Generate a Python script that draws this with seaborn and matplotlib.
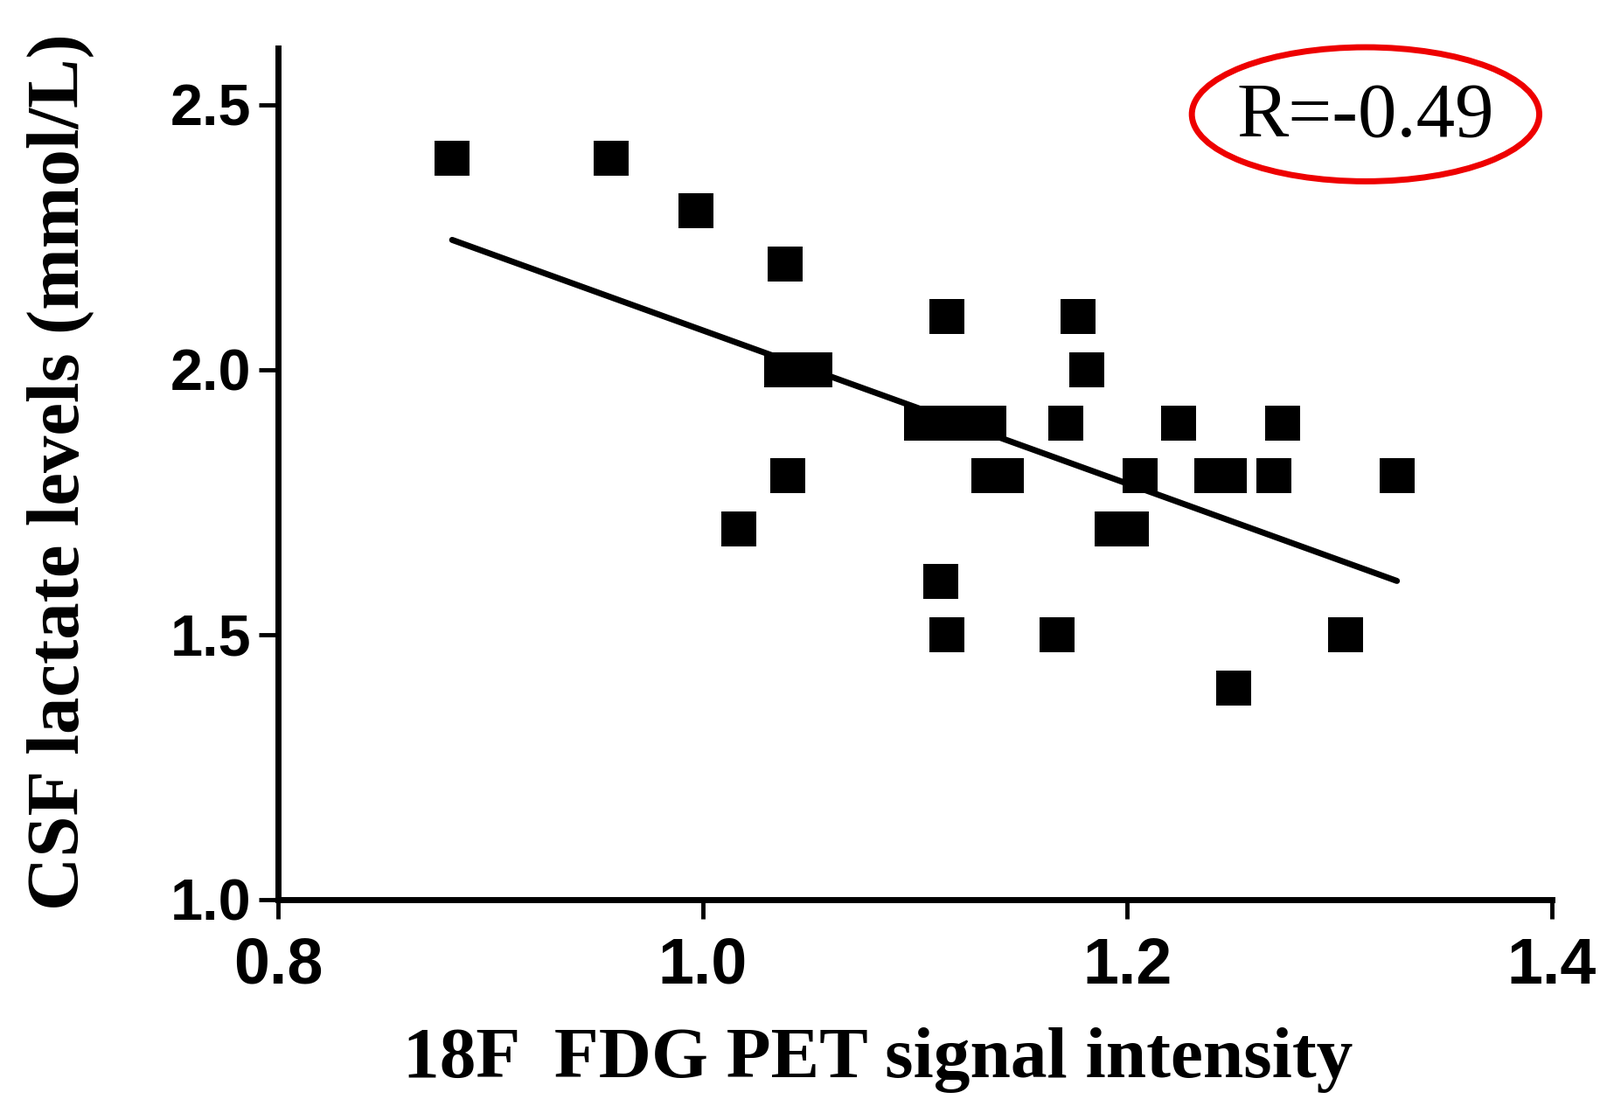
import numpy as np
import pandas as pd
import matplotlib
matplotlib.use("Agg")
import matplotlib.pyplot as plt
from matplotlib.patches import Ellipse
import seaborn as sns

# values
pet_signal = [0.882, 0.957, 0.997, 1.039, 1.115, 1.177,
              1.037, 1.053, 1.181,
              1.103, 1.119, 1.135, 1.171, 1.224, 1.273,
              1.040, 1.135, 1.143, 1.206, 1.240, 1.248, 1.269, 1.327,
              1.017, 1.193, 1.202,
              1.112,
              1.115, 1.167, 1.303,
              1.250]
csf_lactate = [2.4, 2.4, 2.3, 2.2, 2.1, 2.1,
               2.0, 2.0, 2.0,
               1.9, 1.9, 1.9, 1.9, 1.9, 1.9,
               1.8, 1.8, 1.8, 1.8, 1.8, 1.8, 1.8, 1.8,
               1.7, 1.7, 1.7,
               1.6,
               1.5, 1.5, 1.5,
               1.4]
x_ticks = [0.8, 1.0, 1.2, 1.4]
y_ticks = [1.0, 1.5, 2.0, 2.5]
r_text = "R=-0.49"

df = pd.DataFrame({"pet": pet_signal, "lactate": csf_lactate})

sns.set_style("ticks")
plt.rcParams["font.family"] = ["Liberation Sans", "DejaVu Sans"]
plt.rcParams.update({"text.color": "black", "axes.labelcolor": "black",
                     "xtick.color": "black", "ytick.color": "black",
                     "axes.edgecolor": "black"})

fig = plt.figure(figsize=(18.31, 12.57), dpi=100)
ax = fig.add_axes([0.1737, 0.1814, 0.7957, 0.7748])

sns.regplot(data=df, x="pet", y="lactate", ax=ax, ci=None, truncate=True,
            marker="s",
            scatter_kws={"s": 830, "color": "black", "linewidths": 0, "alpha": 1},
            line_kws={"color": "black", "linewidth": 5, "zorder": 1})

ax.set_xlim(0.8, 1.4)
ax.set_ylim(1.0, 2.607)
ax.set_xticks(x_ticks)
ax.set_yticks(y_ticks)
ax.set_xticklabels([f"{v:.1f}" for v in x_ticks], fontsize=53, fontweight="bold")
ax.set_yticklabels([f"{v:.1f}" for v in y_ticks], fontsize=48, fontweight="bold")
ax.tick_params(axis="both", direction="out", length=16, width=3.5, color="black")
ax.tick_params(axis="x", pad=14)
ax.tick_params(axis="y", pad=6)

sns.despine(ax=ax)
for side in ["left", "bottom"]:
    ax.spines[side].set_linewidth(5)
    ax.spines[side].set_color("black")

ax.set_xlabel("18F  FDG PET signal intensity", family="Liberation Serif",
              fontsize=60, fontweight="bold")
ax.set_ylabel("CSF lactate levels (mmol/L)", family="Liberation Serif",
              fontsize=61, fontweight="bold")
ax.xaxis.set_label_coords(0.471, -0.15)
ax.yaxis.set_label_coords(-0.144, 0.502)

fig.patches.append(Ellipse((0.853, 0.896), 0.217, 0.122, transform=fig.transFigure,
                           fill=False, edgecolor="#ee0000", linewidth=5))
fig.text(0.853, 0.893, r_text, family="Liberation Serif", fontsize=64,
         ha="center", va="center", color="black")

fig.savefig("out.png", dpi=100, facecolor="white")
